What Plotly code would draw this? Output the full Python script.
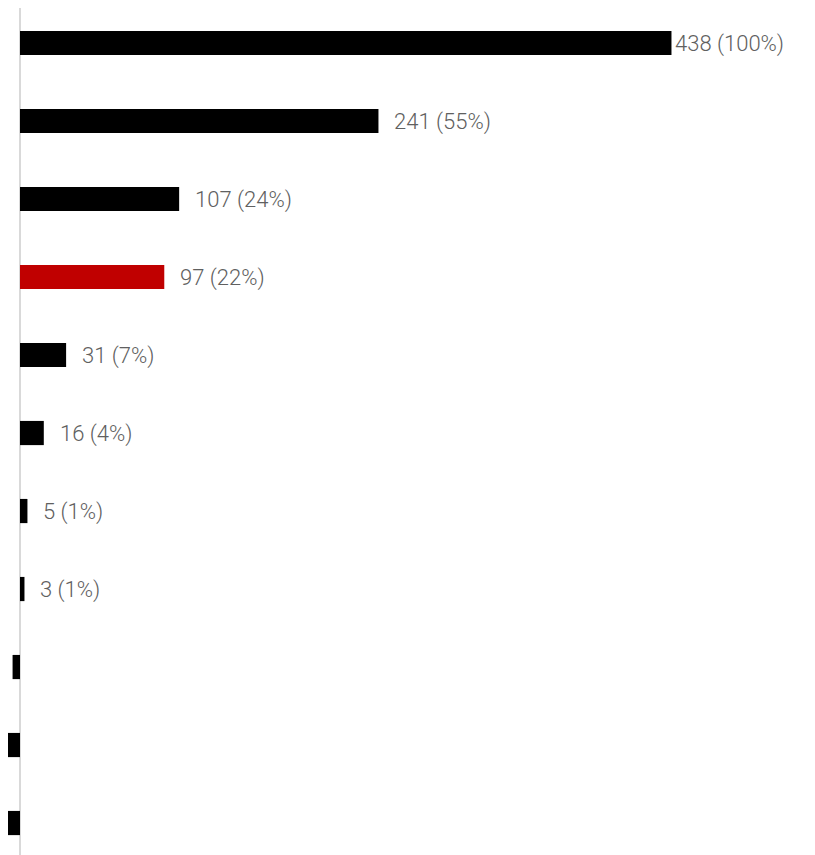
import plotly.graph_objects as go

categories = ["A", "B", "C", "D", "E", "F", "G", "H", "I", "J", "K"]
values = [438, 241, 107, 97, 31, 16, 5, 3, -5, -14, -14]
labels = ["438 (100%)", "241 (55%)", "107 (24%)", "97 (22%)", "31 (7%)", "16 (4%)", "5 (1%)", "3 (1%)", "", "", ""]
highlight = "D"

colors = ["#c00000" if c == highlight else "#000000" for c in categories]

fig = go.Figure()
fig.add_trace(go.Bar(
    y=categories, x=values, orientation="h",
    marker=dict(color=colors, line=dict(width=0)),
    hoverinfo="skip",
))

vmax = max(values)
for c, v, t in zip(categories, values, labels):
    if not t:
        continue
    fig.add_annotation(
        x=v, y=c, text=t, showarrow=False, xanchor="left", yanchor="middle",
        xshift=2 if v == vmax else 14, yshift=-1,
        font=dict(family="Roboto", size=22, color="#606060", weight=300),
    )

fig.update_layout(
    width=807, height=847,
    margin=dict(l=0, r=0, t=0, b=0),
    paper_bgcolor="white", plot_bgcolor="white",
    bargap=0.69,
    showlegend=False,
    xaxis=dict(range=[-8.07, 534.5], showgrid=False, showticklabels=False,
               zeroline=True, zerolinecolor="#d9d9d9", zerolinewidth=2),
    yaxis=dict(range=[10.41, -0.449], showgrid=False, showticklabels=False,
               zeroline=False, type="category"),
)

fig.write_html("out.html")
